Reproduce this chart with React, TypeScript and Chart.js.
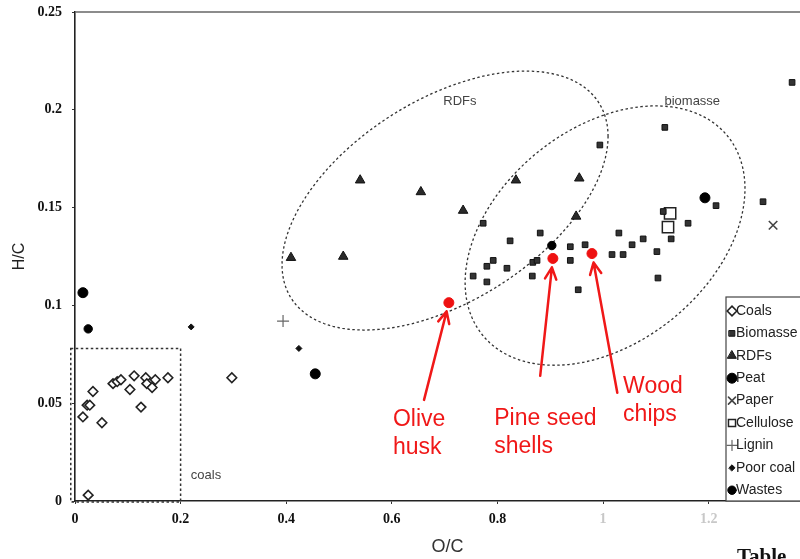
import React, { useEffect, useRef } from 'react';
import { Chart, registerables } from 'chart.js';
import { drawPoint } from 'chart.js/helpers';

Chart.register(...registerables);

// ---------- axis ticks ----------
const X_TICKS = [0, 0.2, 0.4, 0.6, 0.8, 1.0, 1.2];
const X_TICK_LABELS = ['0', '0.2', '0.4', '0.6', '0.8', '1', '1.2'];
const Y_TICKS = [0, 0.05, 0.1, 0.15, 0.2, 0.25];
const Y_TICK_LABELS = ['0', '0.05', '0.1', '0.15', '0.2', '0.25'];

// ---------- series (O/C, H/C) ----------
const coals: [number, number][] = [
  [0.025, 0.003], [0.015, 0.043], [0.023, 0.049], [0.028, 0.049], [0.034, 0.056],
  [0.051, 0.040], [0.072, 0.060], [0.080, 0.061], [0.087, 0.062], [0.104, 0.057],
  [0.112, 0.064], [0.125, 0.048], [0.134, 0.063], [0.136, 0.060], [0.146, 0.058],
  [0.152, 0.062], [0.176, 0.063], [0.297, 0.063],
];
const biomasse: [number, number][] = [
  [0.994, 0.182], [0.773, 0.142], [0.881, 0.137], [0.824, 0.133], [0.938, 0.130],
  [0.966, 0.131], [0.938, 0.123], [0.792, 0.123], [0.780, 0.120], [0.818, 0.119],
  [0.867, 0.122], [0.875, 0.123], [0.754, 0.115], [0.780, 0.112], [0.866, 0.115],
  [0.953, 0.108], [1.017, 0.126], [1.038, 0.126], [1.055, 0.131], [1.030, 0.137],
  [1.076, 0.134], [1.102, 0.1275], [1.104, 0.114], [1.129, 0.134], [1.114, 0.148],
  [1.161, 0.142], [1.214, 0.151], [1.117, 0.191], [1.358, 0.214], [1.303, 0.153],
];
const rdfs: [number, number][] = [
  [0.409, 0.1244], [0.508, 0.125], [0.540, 0.164], [0.655, 0.158], [0.735, 0.1485],
  [0.835, 0.164], [0.955, 0.165], [0.949, 0.1455],
];
const peat: [number, number][] = [[0.015, 0.1065], [0.455, 0.065], [1.193, 0.155]];
const paper: [number, number][] = [[1.322, 0.141]];
const cellulose: [number, number][] = [[1.127, 0.147], [1.123, 0.140]];
const lignin: [number, number][] = [[0.394, 0.092]];
const poorCoal: [number, number][] = [[0.220, 0.089], [0.424, 0.078]];
const wastes: [number, number][] = [[0.025, 0.088], [0.903, 0.1306]];

// highlighted samples
const highlightNames: string[][] = [['Olive', 'husk'], ['Pine seed', 'shells'], ['Wood', 'chips']];
const highlightPoints: [number, number][] = [[0.708, 0.1014], [0.905, 0.124], [0.979, 0.1265]];

// ---------- overlay layout (data coordinates) ----------
const ANNOT_LAYOUT = [
  { tail: [0.661, 0.0517], text: [0.602, 0.0384] },
  { tail: [0.881, 0.064], text: [0.794, 0.0389] },
  { tail: [1.027, 0.0553], text: [1.038, 0.0553] },
];
const ELLIPSES = [
  { label: 'RDFs', c: [0.7008, 0.1536], a: [0.3087, 0.0328], b: [0, 0.0575], labelAt: [0.729, 0.2043] },
  { label: 'biomasse', c: [1.0038, 0.1357], a: [0.265, 0.024], b: [0, 0.0618], labelAt: [1.169, 0.2043] },
];
const COAL_BOX = { x0: -0.008, x1: 0.2, y0: 0, y1: 0.078, labelAt: [0.248, 0.0133], label: 'coals' };

const toXY = (arr: [number, number][]) => arr.map(([x, y]) => ({ x, y }));

const SANS = '"Liberation Sans", Arial, sans-serif';
const SERIF = '"Liberation Serif", "Times New Roman", serif';

const overlayPlugin = {
  id: 'overlay',
  beforeDatasetsDraw(chart: any) {
    const { ctx, chartArea, scales } = chart;
    const xs = scales.x, ys = scales.y;
    const px = (v: number) => xs.getPixelForValue(v);
    const py = (v: number) => ys.getPixelForValue(v);
    ctx.save();
    // top frame line
    ctx.strokeStyle = '#666';
    ctx.lineWidth = 1.5;
    ctx.beginPath();
    ctx.moveTo(chartArea.left, chartArea.top);
    ctx.lineTo(chartArea.right, chartArea.top);
    ctx.stroke();
    // dashed ellipses
    ctx.setLineDash([2.5, 2.5]);
    ctx.lineWidth = 1.3;
    ctx.strokeStyle = '#333';
    for (const e of ELLIPSES) {
      ctx.beginPath();
      for (let i = 0; i <= 240; i++) {
        const t = (i / 240) * Math.PI * 2;
        const X = px(e.c[0] + e.a[0] * Math.cos(t) + e.b[0] * Math.sin(t));
        const Y = py(e.c[1] + e.a[1] * Math.cos(t) + e.b[1] * Math.sin(t));
        if (i === 0) ctx.moveTo(X, Y); else ctx.lineTo(X, Y);
      }
      ctx.closePath();
      ctx.stroke();
    }
    // coal box
    ctx.lineWidth = 1.5;
    ctx.strokeRect(px(COAL_BOX.x0), py(COAL_BOX.y1), px(COAL_BOX.x1) - px(COAL_BOX.x0), py(COAL_BOX.y0) - py(COAL_BOX.y1) + 1);
    ctx.setLineDash([]);
    // region labels
    ctx.fillStyle = '#444';
    ctx.font = `13px ${SANS}`;
    ctx.textAlign = 'center';
    ctx.textBaseline = 'middle';
    for (const e of ELLIPSES) ctx.fillText(e.label, px(e.labelAt[0]), py(e.labelAt[1]));
    ctx.fillText(COAL_BOX.label, px(COAL_BOX.labelAt[0]), py(COAL_BOX.labelAt[1]));
    ctx.restore();
  },
  afterDatasetsDraw(chart: any) {
    const { ctx, scales } = chart;
    const xs = scales.x, ys = scales.y;
    const px = (v: number) => xs.getPixelForValue(v);
    const py = (v: number) => ys.getPixelForValue(v);
    ctx.save();
    // red annotations
    const red = '#f01818';
    ctx.strokeStyle = red;
    ctx.fillStyle = red;
    ctx.lineWidth = 2.5;
    ctx.lineCap = 'round';
    highlightPoints.forEach((p, i) => {
      const L = ANNOT_LAYOUT[i];
      const pX = px(p[0]), pY = py(p[1]);
      const tX = px(L.tail[0]), tY = py(L.tail[1]);
      const dx = tX - pX, dy = tY - pY;
      const len = Math.hypot(dx, dy);
      const ux = dx / len, uy = dy / len;
      const tipX = pX + ux * 9, tipY = pY + uy * 9;
      ctx.beginPath();
      ctx.moveTo(tX, tY);
      ctx.lineTo(tipX, tipY);
      const ang = Math.atan2(uy, ux);
      for (const s of [-0.45, 0.45]) {
        ctx.moveTo(tipX, tipY);
        ctx.lineTo(tipX + Math.cos(ang + s) * 13, tipY + Math.sin(ang + s) * 13);
      }
      ctx.stroke();
      ctx.font = `23px ${SANS}`;
      ctx.textAlign = 'left';
      ctx.textBaseline = 'alphabetic';
      highlightNames[i].forEach((line, k) => {
        ctx.fillText(line, px(L.text[0]), py(L.text[1]) + k * 28);
      });
    });

    // legend box
    const items = chart.data.datasets.filter((d: any) => d.showInLegend);
    const boxX = 726, boxY = 297, boxH = 204, rowH = 22.4;
    ctx.fillStyle = '#fff';
    ctx.fillRect(boxX, boxY, 120, boxH);
    ctx.strokeStyle = '#444';
    ctx.lineWidth = 1.2;
    ctx.strokeRect(boxX, boxY, 120, boxH);
    items.forEach((d: any, i: number) => {
      const cy = boxY + 14 + i * rowH;
      ctx.fillStyle = d.backgroundColor;
      ctx.strokeStyle = d.borderColor;
      ctx.lineWidth = d.borderWidth;
      drawPoint(ctx, { pointStyle: d.pointStyle, rotation: 0, radius: Math.min(d.pointRadius, 5), borderWidth: d.borderWidth }, boxX + 6, cy);
      ctx.fillStyle = '#222';
      ctx.font = `14px ${SANS}`;
      ctx.textAlign = 'left';
      ctx.textBaseline = 'middle';
      ctx.fillText(d.label, boxX + 10, cy);
    });

    // cropped page text below the figure
    ctx.fillStyle = '#111';
    ctx.font = `bold 21px ${SERIF}`;
    ctx.textAlign = 'left';
    ctx.textBaseline = 'alphabetic';
    ctx.fillText('Table', 737, 563);
    ctx.restore();
  },
};

export default function App() {
  const canvasRef = useRef<HTMLCanvasElement | null>(null);

  useEffect(() => {
    document.body.style.margin = '0';
    const canvas = canvasRef.current;
    if (!canvas) return;

    const mk = (label: string, data: [number, number][], style: any) => ({
      label,
      data: toXY(data),
      showInLegend: true,
      ...style,
    });

    const datasets: any[] = [
      mk('Coals', coals, { pointStyle: 'rectRot', pointRadius: 4.8, backgroundColor: '#fff', borderColor: '#222', borderWidth: 1.6 }),
      mk('Biomasse', biomasse, { pointStyle: 'rect', pointRadius: 4, backgroundColor: '#333', borderColor: '#111', borderWidth: 1 }),
      mk('RDFs', rdfs, { pointStyle: 'triangle', pointRadius: 5.5, backgroundColor: '#2a2a2a', borderColor: '#111', borderWidth: 1 }),
      mk('Peat', peat, { pointStyle: 'circle', pointRadius: 5, backgroundColor: '#000', borderColor: '#000', borderWidth: 1 }),
      mk('Paper', paper, { pointStyle: 'crossRot', pointRadius: 6, backgroundColor: '#444', borderColor: '#444', borderWidth: 1.6 }),
      mk('Cellulose', cellulose, { pointStyle: 'rect', pointRadius: 8, backgroundColor: '#fff', borderColor: '#222', borderWidth: 1.5 }),
      mk('Lignin', lignin, { pointStyle: 'cross', pointRadius: 6, backgroundColor: '#666', borderColor: '#666', borderWidth: 1.2 }),
      mk('Poor coal', poorCoal, { pointStyle: 'rectRot', pointRadius: 3, backgroundColor: '#111', borderColor: '#111', borderWidth: 1 }),
      mk('Wastes', wastes, { pointStyle: 'circle', pointRadius: 4.2, backgroundColor: '#000', borderColor: '#000', borderWidth: 1 }),
      {
        label: 'Highlighted samples',
        data: toXY(highlightPoints),
        showInLegend: false,
        pointStyle: 'circle',
        pointRadius: 5,
        backgroundColor: '#ee1111',
        borderColor: '#ee1111',
        borderWidth: 1,
      },
    ];

    const chart = new Chart(canvas, {
      type: 'scatter',
      data: { datasets },
      options: {
        animation: false,
        responsive: true,
        maintainAspectRatio: false,
        layout: { autoPadding: false, padding: { top: 12, right: 0, bottom: 0, left: 0 } },
        plugins: { legend: { display: false }, tooltip: { enabled: false } },
        scales: {
          x: {
            type: 'linear',
            min: 0,
            max: 1.373,
            afterBuildTicks: (scale: any) => {
              scale.ticks = X_TICKS.map((v) => ({ value: v }));
            },
            afterFit: (scale: any) => {
              scale.height = 58;
              scale.paddingLeft = 0;
              scale.paddingRight = 0;
            },
            grid: { drawOnChartArea: false, drawTicks: true, tickLength: 3, color: '#333' },
            border: { display: true, color: '#222', width: 1.6 },
            ticks: {
              padding: 7,
              maxRotation: 0,
              autoSkip: false,
              color: (c: any) => (c.index >= 5 ? '#c8c8c8' : '#111'),
              font: { family: SERIF, size: 14, weight: 'bold' },
              callback: (_v: any, i: number) => X_TICK_LABELS[i],
            },
            title: {
              display: true,
              text: '    O/C',
              color: '#333',
              font: { family: SANS, size: 18 },
              padding: { top: 0, bottom: 1 },
            },
          },
          y: {
            type: 'linear',
            min: 0,
            max: 0.25,
            afterBuildTicks: (scale: any) => {
              scale.ticks = Y_TICKS.map((v) => ({ value: v }));
            },
            afterFit: (scale: any) => {
              scale.width = 75;
              scale.paddingTop = 0;
              scale.paddingBottom = 0;
            },
            grid: { drawOnChartArea: false, drawTicks: true, tickLength: 3, color: '#333' },
            border: { display: true, color: '#222', width: 1.6 },
            ticks: {
              padding: 10,
              autoSkip: false,
              color: '#111',
              font: { family: SERIF, size: 14, weight: 'bold' },
              callback: (_v: any, i: number) => Y_TICK_LABELS[i],
            },
            title: {
              display: true,
              text: 'H/C',
              color: '#222',
              font: { family: SANS, size: 16 },
              padding: { top: 10, bottom: 0 },
            },
          },
        },
      },
      plugins: [overlayPlugin],
    } as any);

    return () => chart.destroy();
  }, []);

  return (
    <div style={{ position: 'relative', width: 800, height: 559 }}>
      <canvas ref={canvasRef} style={{ display: 'block' }} />
    </div>
  );
}
